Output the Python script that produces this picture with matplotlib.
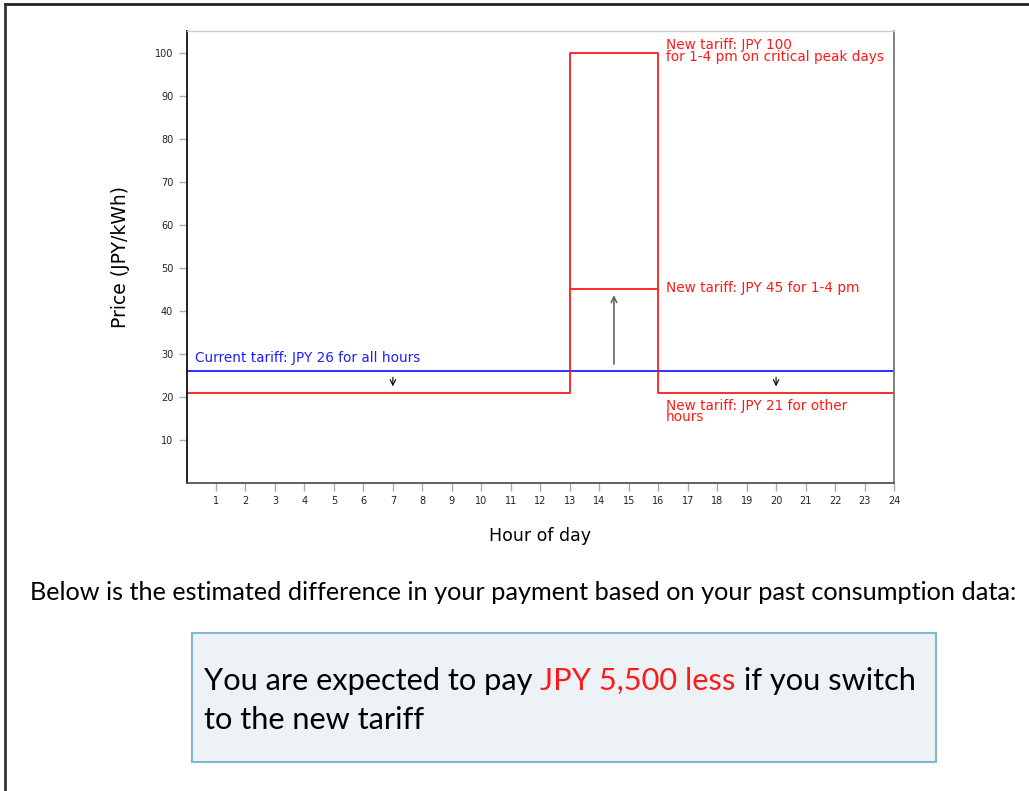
import matplotlib
matplotlib.use("Agg")
import matplotlib.pyplot as plt
from matplotlib.lines import Line2D
from matplotlib.patches import Rectangle

# ---- data ----
hours_ticks = list(range(1, 25))
y_ticks = [10, 20, 30, 40, 50, 60, 70, 80, 90, 100]
current_hours = [0, 24]
current_price = [26, 26]
new_hours = [0, 13, 13, 16, 16, 24]
new_price = [21, 21, 100, 100, 21, 21]
peak_hours = [13, 16]
peak_price = [45, 45]

W, H = 1029, 791
fig = plt.figure(figsize=(W / 100, H / 100), dpi=100)
fx = lambda x: x / W
fy = lambda y: 1 - y / H

ax = fig.add_axes([fx(186.5), fy(483), fx(894) - fx(186.5), fy(31) - fy(483)])
ax.set_xlim(0, 24)
ax.set_ylim(0, 105)

ax.plot(current_hours, current_price, color="#1f1fff", lw=1.3)
ax.plot(new_hours, new_price, color="#ff1a1a", lw=1.3)
ax.plot(peak_hours, peak_price, color="#ff1a1a", lw=1.3)

# arrows
ax.annotate("", xy=(7, 21.8), xytext=(7, 25.2),
            arrowprops=dict(arrowstyle="->", color="black", lw=0.8))
ax.annotate("", xy=(20, 21.8), xytext=(20, 25.2),
            arrowprops=dict(arrowstyle="->", color="black", lw=0.8))
ax.annotate("", xy=(14.5, 44.3), xytext=(14.5, 27.0),
            arrowprops=dict(arrowstyle="->", color="#666666", lw=1.2))

red = "#ff1a1a"
fs = 9.8
ax.text(0.28, 27.5, "Current tariff: JPY 26 for all hours", color="#1f1fff",
        fontsize=fs, va="bottom", ha="left")
ax.text(16.25, 103.4, "New tariff: JPY 100\nfor 1-4 pm on critical peak days", color=red,
        fontsize=fs, va="top", ha="left", linespacing=0.8)
ax.text(16.25, 45.2, "New tariff: JPY 45 for 1-4 pm", color=red,
        fontsize=fs, va="center", ha="left")
ax.text(16.25, 19.6, "New tariff: JPY 21 for other\nhours", color=red,
        fontsize=fs, va="top", ha="left", linespacing=0.8)

ax.set_xticks(hours_ticks)
ax.set_xticklabels([str(h) for h in hours_ticks])
ax.set_yticks(y_ticks)
ax.set_yticklabels([str(v) for v in y_ticks])
ax.tick_params(axis="both", labelsize=7, colors="#222222", direction="out",
               length=6, width=1)
ax.tick_params(axis="both", color="#aaaaaa")
ax.spines["left"].set_color("#111111")
ax.spines["left"].set_linewidth(1.3)
ax.spines["bottom"].set_color("#555555")
ax.spines["bottom"].set_linewidth(1.3)
ax.spines["right"].set_color("#777777")
ax.spines["right"].set_linewidth(1.3)
ax.spines["top"].set_color("#cccccc")
ax.spines["top"].set_linewidth(1.0)

ax.set_xlabel("Hour of day", fontsize=12.5, labelpad=15)
ax.set_ylabel("Price (JPY/kWh)", fontsize=13.5, labelpad=18)

# figure frame lines
fig.add_artist(Line2D([fx(5), fx(W + 5)], [fy(4), fy(4)], color="#222222", lw=2.0,
                      transform=fig.transFigure))
fig.add_artist(Line2D([fx(5), fx(5)], [fy(4), fy(H + 5)], color="#333333", lw=2.0,
                      transform=fig.transFigure))

# info box
fig.add_artist(Rectangle((fx(192), fy(762)), fx(936) - fx(192), fy(633) - fy(762),
                         transform=fig.transFigure, facecolor="#edf2f6",
                         edgecolor="#7fb8d0", lw=1.5))

fig.canvas.draw()
renderer = fig.canvas.get_renderer()
family = "Lato"

def fit_text(x, y, s, target_w, size0, **kw):
    t = fig.text(fx(x), fy(y), s, fontsize=size0, family=family, va="center", ha="left", **kw)
    w = t.get_window_extent(renderer).width
    t.set_fontsize(size0 * target_w / w)
    return t

fit_text(30, 592, "Below is the estimated difference in your payment based on your past consumption data:",
         988, 14)

# multi-colour line
parts = [("You are expected to pay ", "black"), ("JPY 5,500 less", red), (" if you switch", "black")]
size0 = 20
total = 0
for s, c in parts:
    t = fig.text(0, 0, s, fontsize=size0, family=family)
    total += t.get_window_extent(renderer).width
    t.remove()
size = size0 * 713 / total
x = 204
for s, c in parts:
    t = fig.text(fx(x), fy(681), s, fontsize=size, family=family, color=c, va="center", ha="left")
    x += t.get_window_extent(renderer).width
fig.text(fx(204), fy(720), "to the new tariff", fontsize=size, family=family, color="black",
         va="center", ha="left")

fig.savefig("out.png", dpi=100)
